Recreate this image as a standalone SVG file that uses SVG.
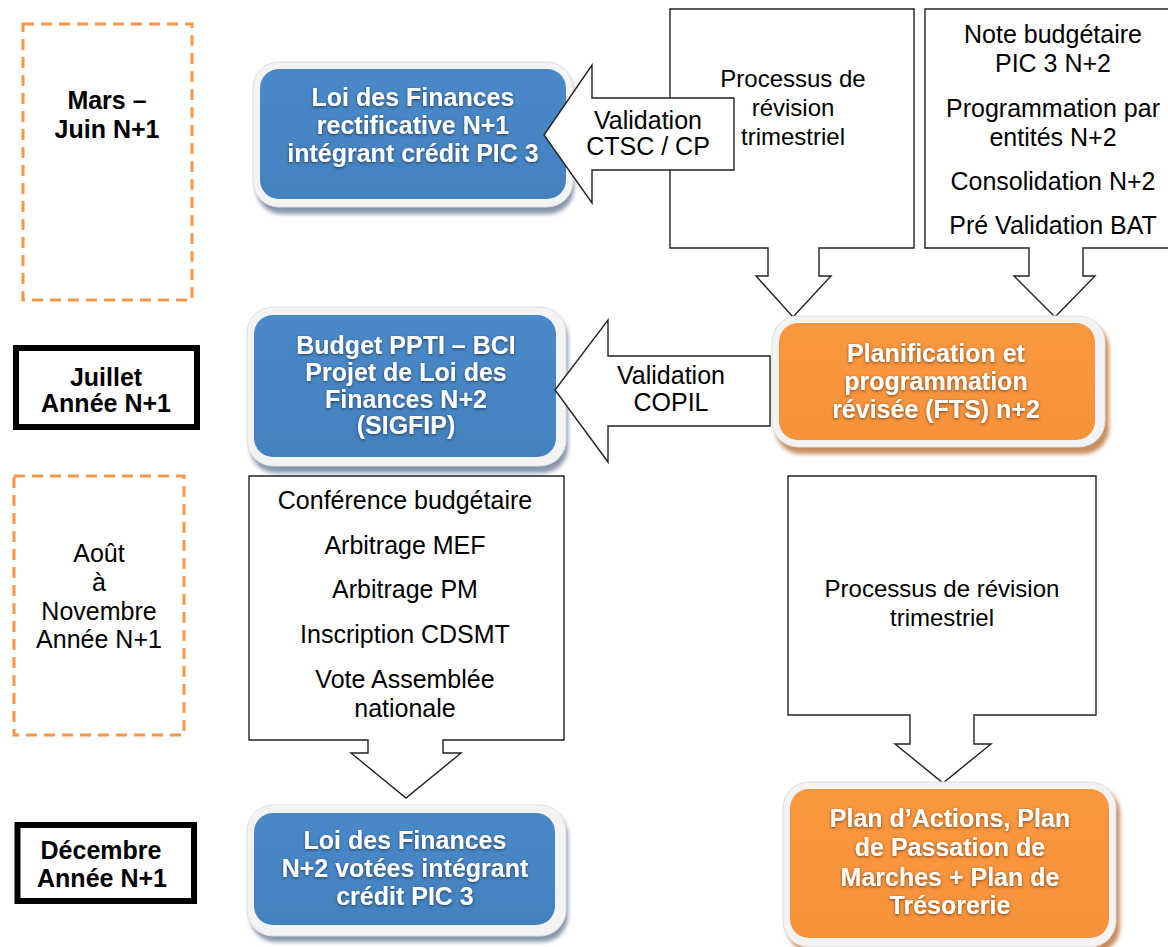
<svg xmlns="http://www.w3.org/2000/svg" width="1168" height="947" viewBox="0 0 1168 947">
<defs>
<linearGradient id="gBlue" x1="0" y1="0" x2="0" y2="1"><stop offset="0" stop-color="#4a89c8"/><stop offset="1" stop-color="#4381bf"/></linearGradient>
<linearGradient id="gOrange" x1="0" y1="0" x2="0" y2="1"><stop offset="0" stop-color="#f9973f"/><stop offset="1" stop-color="#f6923a"/></linearGradient>
<filter id="blur" x="-10%" y="-10%" width="120%" height="130%"><feGaussianBlur stdDeviation="2"/></filter>
<filter id="tsh" x="-10%" y="-30%" width="120%" height="160%"><feDropShadow dx="0" dy="1" stdDeviation="1.6" flood-color="#000" flood-opacity="0.55"/></filter>
</defs>
<style>
text{font-family:"Liberation Sans",Arial,sans-serif;text-anchor:middle}
.r{font-size:25px;fill:#000}
.p{font-size:24px;fill:#000}
.b{font-size:25px;font-weight:bold;fill:#000}
.w{font-size:25px;font-weight:bold;fill:#fff;filter:url(#tsh)}
.dash{fill:none;stroke:#f79646;stroke-width:3;stroke-dasharray:11 7}
.thick{fill:#fff;stroke:#000;stroke-width:6}
.call{fill:#fff;stroke:#222;stroke-width:1.4}
.halo{fill:#f3f3f3;stroke:#dedede;stroke-width:1}
.shB{fill:#8795ab;filter:url(#blur)}
.shO{fill:#c98c5c;filter:url(#blur)}
.blue{fill:url(#gBlue)}
.orange{fill:url(#gOrange)}
.arr{fill:#fff;stroke:#222;stroke-width:1.4}
</style>

<g id="periode-mars-juin">
<rect class="dash" x="23" y="24" width="169" height="276"/>
<text class="b" x="107" y="109">Mars –</text>
<text class="b" x="107" y="138">Juin N+1</text>
</g>

<g id="periode-juillet">
<rect class="thick" x="16" y="348" width="181" height="79"/>
<text class="b" x="106" y="386">Juillet</text>
<text class="b" x="106" y="412">Année N+1</text>
</g>

<g id="periode-aout-novembre">
<rect class="dash" x="14" y="476" width="170" height="259"/>
<text class="r" x="99" y="562">Août</text>
<text class="r" x="99" y="591">à</text>
<text class="r" x="99" y="620">Novembre</text>
<text class="r" x="99" y="648">Année N+1</text>
</g>

<g id="periode-decembre">
<rect class="thick" x="17.5" y="825" width="176.5" height="76"/>
<text class="b" x="101" y="859">Décembre</text>
<text class="b" x="102" y="887">Année N+1</text>
</g>

<g id="loi-finances-rectificative">
<rect class="shB" x="256" y="68" width="318" height="146" rx="26"/>
<rect class="halo" x="253" y="62" width="320" height="145" rx="26"/>
<rect class="blue" x="260" y="69" width="306" height="130" rx="19"/>
<text class="w" x="413" y="106">Loi des Finances</text>
<text class="w" x="413" y="134">rectificative N+1</text>
<text class="w" x="413" y="162">intégrant crédit PIC 3</text>
</g>

<g id="processus-revision-1">
<path class="call" d="M670,9 H914 V248 H819 V276 H831 L793,317 L756,276 H768 V248 H670 Z"/>
<text class="p" x="793" y="87">Processus de</text>
<text class="p" x="793" y="116">révision</text>
<text class="p" x="793" y="145">trimestriel</text>
</g>

<g id="note-budgetaire">
<path class="call" d="M925,9 H1172 V248 H1083 V276 H1095 L1055,317 L1014,276 H1029 V248 H925 Z"/>
<text class="r" x="1053" y="43">Note budgétaire</text>
<text class="r" x="1053" y="72">PIC 3 N+2</text>
<text class="r" x="1053" y="117">Programmation par</text>
<text class="r" x="1053" y="146">entités N+2</text>
<text class="r" x="1053" y="190">Consolidation N+2</text>
<text class="r" x="1053" y="234">Pré Validation BAT</text>
</g>

<g id="planification-revisee">
<rect class="shO" x="775" y="322" width="334" height="132" rx="26"/>
<rect class="halo" x="772" y="316" width="333" height="131" rx="26"/>
<rect class="orange" x="779" y="323" width="316" height="117" rx="19"/>
<text class="w" x="936" y="362">Planification et</text>
<text class="w" x="936" y="390">programmation</text>
<text class="w" x="936" y="418">révisée (FTS) n+2</text>
</g>

<g id="budget-ppti-bci">
<rect class="shB" x="250" y="312" width="318" height="161" rx="26"/>
<rect class="halo" x="247" y="307" width="319" height="159" rx="26"/>
<rect class="blue" x="254" y="315" width="302" height="142" rx="19"/>
<text class="w" x="406" y="354">Budget PPTI – BCI</text>
<text class="w" x="406" y="381">Projet de Loi des</text>
<text class="w" x="406" y="408">Finances N+2</text>
<text class="w" x="406" y="434">(SIGFIP)</text>
</g>

<g id="conference-budgetaire">
<path class="call" d="M249,476 H564 V740 H443 V753 H461 L406,798 L351,753 H368 V740 H249 Z"/>
<text class="r" x="405" y="509">Conférence budgétaire</text>
<text class="r" x="405" y="554">Arbitrage MEF</text>
<text class="r" x="405" y="598">Arbitrage PM</text>
<text class="r" x="405" y="643">Inscription CDSMT</text>
<text class="r" x="405" y="688">Vote Assemblée</text>
<text class="r" x="405" y="717">nationale</text>
</g>

<g id="processus-revision-2">
<path class="call" d="M788,476 H1096 V715 H974 V744 H991 L943,783 L895,744 H910 V715 H788 Z"/>
<text class="p" x="942" y="597">Processus de révision</text>
<text class="p" x="942" y="626">trimestriel</text>
</g>

<g id="loi-finances-votees">
<rect class="shB" x="250" y="810" width="318" height="132" rx="26"/>
<rect class="halo" x="247" y="805" width="319" height="131" rx="26"/>
<rect class="blue" x="254" y="813" width="301" height="112" rx="19"/>
<text class="w" x="405" y="849">Loi des Finances</text>
<text class="w" x="405" y="877">N+2 votées intégrant</text>
<text class="w" x="405" y="905">crédit PIC 3</text>
</g>

<g id="plan-actions">
<rect class="shO" x="787" y="787" width="333" height="166" rx="26"/>
<rect class="halo" x="783" y="782" width="333" height="165" rx="26"/>
<rect class="orange" x="790" y="789" width="319" height="149" rx="19"/>
<text class="w" x="950" y="827">Plan d’Actions, Plan</text>
<text class="w" x="950" y="856">de Passation de</text>
<text class="w" x="950" y="886">Marches + Plan de</text>
<text class="w" x="950" y="914">Trésorerie</text>
</g>

<g id="connectors">
<g id="validation-ctsc-cp">
<path class="arr" d="M734,98 V170 H592 V203 L544,135 L592,65 V98 Z"/>
<text class="r" x="648" y="129">Validation</text>
<text class="r" x="648" y="155">CTSC / CP</text>
</g>
<g id="validation-copil">
<path class="arr" d="M770,356 V426 H608 V462 L555,390 L608,320 V356 Z"/>
<text class="r" x="671" y="384">Validation</text>
<text class="r" x="671" y="411">COPIL</text>
</g>
</g>
</svg>
